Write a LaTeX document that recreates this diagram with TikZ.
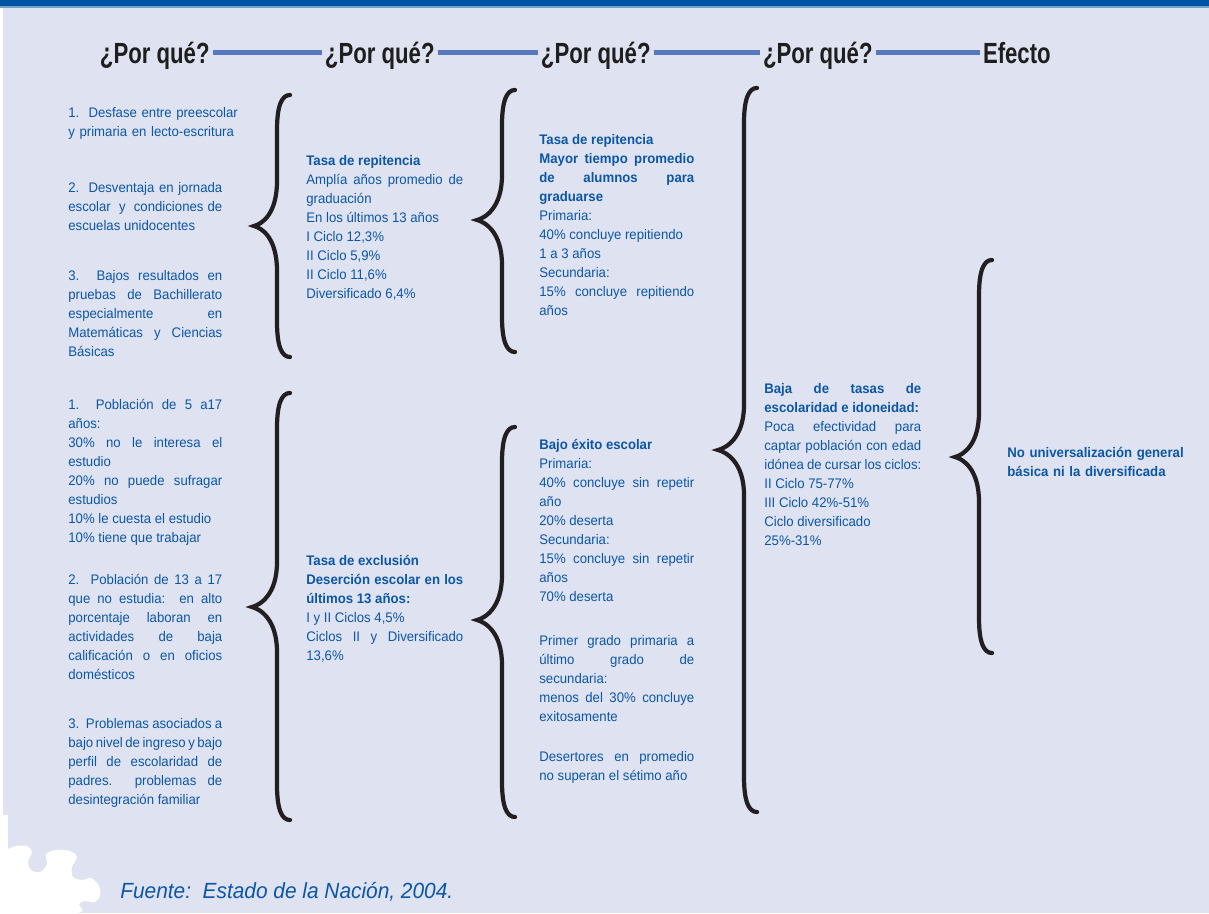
\documentclass[tikz,border=0pt]{standalone}
\usepackage{fontspec}
\setmainfont{Liberation Sans}[FakeStretch=0.95]
\newfontfamily\headfont{Liberation Sans}[FakeStretch=0.76]

\definecolor{bgcol}{RGB}{223,227,241}
\definecolor{barblue}{RGB}{0,84,164}
\definecolor{txtblue}{RGB}{12,86,166}
\definecolor{linkblue}{RGB}{88,120,190}
\definecolor{headcol}{RGB}{30,30,30}
\definecolor{bracecol}{RGB}{35,31,32}

\begin{document}
\begin{tikzpicture}[x=0.02cm, y=-0.02cm,
    head/.style  = {font=\headfont\bfseries\fontsize{16.6}{18}\selectfont, text=headcol,
                    inner sep=1.5pt, text height=12pt, text depth=0pt, anchor=base west},
    link/.style  = {draw=linkblue, line width=2.5pt},
    txt/.style   = {anchor=north west, inner sep=0pt, text width=3.14cm, align=justify,
                    text=txtblue, font=\fontsize{7.9}{10.8}\selectfont},
    curly/.style = {draw=bracecol, line width=2.4pt, line cap=round}]

    % page
    \useasboundingbox (0,0) rectangle (1209,913);
    \fill[bgcol]        (0,0) rectangle (1209,913);
    \fill[barblue]      (0,0) rectangle (1209,6);
    \fill[barblue!55]   (0,6) rectangle (1209,7.5);
    \fill[white]        (0,7.5) rectangle (2.5,913);
    \fill[white]        (0,815) rectangle (8,856);
    \fill[white] plot[smooth cycle, tension=0.55] coordinates {(0,852) (8,849) (16,846) (27,846) (32,852)
        (28,862) (31,870) (40,872) (47,864) (46,854) (56,850) (70,851) (77,857) (72,867) (73,877)
        (82,880) (91,878) (99,886) (100,896) (95,902) (85,901) (79,904) (77,913) (0,913)};

    % headings
    \node[head] (q1) at (97,63)  {¿Por qué?};
    \node[head] (q2) at (322,63) {¿Por qué?};
    \node[head] (q3) at (538,63) {¿Por qué?};
    \node[head] (q4) at (760,63) {¿Por qué?};
    \node[head] (ef) at (980,63) {Efecto};

    \draw[link] (q1.east) -- (q2.west);
    \draw[link] (q2.east) -- (q3.west);
    \draw[link] (q3.east) -- (q4.west);
    \draw[link] (q4.east) -- (ef.west);

    % first column
    \node[txt, text width=3.5cm, align=left] (desfase) at (68,107)
        {1.\ \ Desfase entre preescolar\\y primaria en lecto-escritura};
    \node[txt, text width=3.08cm] (jornada) at (68,182)
        {2.\ \ Desventaja en jornada\linebreak escolar\ \ y\ \ condiciones de\linebreak escuelas unidocentes};
    \node[txt, text width=3.08cm] (pruebas) at (68,270)
        {3.\ \ Bajos resultados en\linebreak pruebas de Bachillerato\linebreak especialmente en\linebreak
         Matemáticas y Ciencias\linebreak Básicas};
    \node[txt, text width=3.08cm] (poblacion) at (68,399)
        {1.\ \ Población de 5 a17\linebreak años:\\30\% no le interesa el\linebreak estudio\\
         20\% no puede sufragar\linebreak estudios\\10\% le cuesta el estudio\\10\% tiene que trabajar};
    \node[txt, text width=3.08cm] (noestudia) at (68,574)
        {2.\ \ Población de 13 a 17\linebreak que no estudia:\ \ en alto\linebreak porcentaje laboran en\linebreak
         actividades de baja\linebreak calificación o en oficios\linebreak domésticos};
    \node[txt, text width=3.08cm] (ingreso) at (68,718)
        {3.\ \ Problemas asociados a\linebreak bajo nivel de ingreso y bajo\linebreak perfil de escolaridad de\linebreak
         padres.\ \ problemas de\linebreak desintegración familiar};

    % second column
    \node[txt] (repit1) at (306,155)
        {\textbf{Tasa de repitencia}\\Amplía años promedio de\linebreak graduación\\En los últimos 13 años\\
         I Ciclo 12,3\%\\II Ciclo 5,9\%\\II Ciclo 11,6\%\\Diversificado 6,4\%};
    \node[txt] (exclusion) at (306,555)
        {\textbf{Tasa de exclusión}\\\textbf{Deserción escolar en los\linebreak últimos 13 años:}\\
         I y II Ciclos 4,5\%\\Ciclos II y Diversificado\linebreak 13,6\%};

    % third column
    \node[txt, text width=3.1cm] (repit2) at (539,134)
        {\textbf{Tasa de repitencia}\\\textbf{Mayor tiempo promedio\linebreak de alumnos para\linebreak graduarse}\\
         Primaria:\\40\% concluye repitiendo\\1 a 3 años\\Secundaria:\\15\% concluye repitiendo\linebreak años};
    \node[txt, text width=3.1cm] (exito) at (539,439)
        {\textbf{Bajo éxito escolar}\\Primaria:\\40\% concluye sin repetir\linebreak año\\20\% deserta\\
         Secundaria:\\15\% concluye sin repetir\linebreak años\\70\% deserta\\[14.5pt]
         Primer grado primaria a\linebreak último grado de\linebreak secundaria:\\
         menos del 30\% concluye\linebreak exitosamente\\[11.8pt]
         Desertores en promedio\linebreak no superan el sétimo año};

    % fourth column
    \node[txt] (tasas) at (764,383)
        {\textbf{Baja de tasas de\linebreak escolaridad e idoneidad:}\\Poca efectividad para\linebreak
         captar población con edad\linebreak idónea de cursar los ciclos:\\II Ciclo 75-77\%\\
         III Ciclo 42\%-51\%\\Ciclo diversificado\\25\%-31\%};

    % effect
    \node[txt, text width=3.8cm, align=left, font=\bfseries\fontsize{7.9}{10.8}\selectfont] (efecto) at (1007,447)
        {No universalización general\\básica ni la diversificada};

    % braces
    \draw[curly] (290,95) .. controls (282,95) and (277,105) .. (277,130) -- (277,181) .. controls (277,214) and (262,224) .. (254,226)
                 .. controls (262,228) and (277,238) .. (277,271) -- (277,322) .. controls (277,347) and (282,357) .. (290,357);
    \draw[curly] (290,393) .. controls (282,393) and (277,403) .. (277,428) -- (277,562) .. controls (277,595) and (260,605) .. (252,607)
                 .. controls (260,609) and (277,619) .. (277,652) -- (277,785) .. controls (277,810) and (282,820) .. (290,820);
    \draw[curly] (515,90) .. controls (507,90) and (502,100) .. (502,125) -- (502,175) .. controls (502,208) and (485,218) .. (477,220)
                 .. controls (485,222) and (502,232) .. (502,265) -- (502,317) .. controls (502,342) and (507,352) .. (515,352);
    \draw[curly] (515,427) .. controls (507,427) and (502,437) .. (502,462) -- (502,575) .. controls (502,608) and (485,618) .. (477,620)
                 .. controls (485,622) and (502,632) .. (502,665) -- (502,782) .. controls (502,807) and (507,817) .. (515,817);
    \draw[curly] (757,88) .. controls (749,88) and (744,98) .. (744,123) -- (744,405) .. controls (744,438) and (726,448) .. (718,450)
                 .. controls (726,452) and (744,462) .. (744,495) -- (744,777) .. controls (744,802) and (749,812) .. (757,812);
    \draw[curly] (992,260) .. controls (984,260) and (979,270) .. (979,295) -- (979,412) .. controls (979,445) and (963,455) .. (955,457)
                 .. controls (963,459) and (979,469) .. (979,502) -- (979,618) .. controls (979,643) and (984,653) .. (992,653);

    % source
    \node[anchor=base west, inner sep=0pt, text=txtblue, font=\itshape\fontsize{12.5}{14}\selectfont] (fuente) at (120,898)
        {Fuente:\ \ Estado de la Nación, 2004.};

\end{tikzpicture}
\end{document}
